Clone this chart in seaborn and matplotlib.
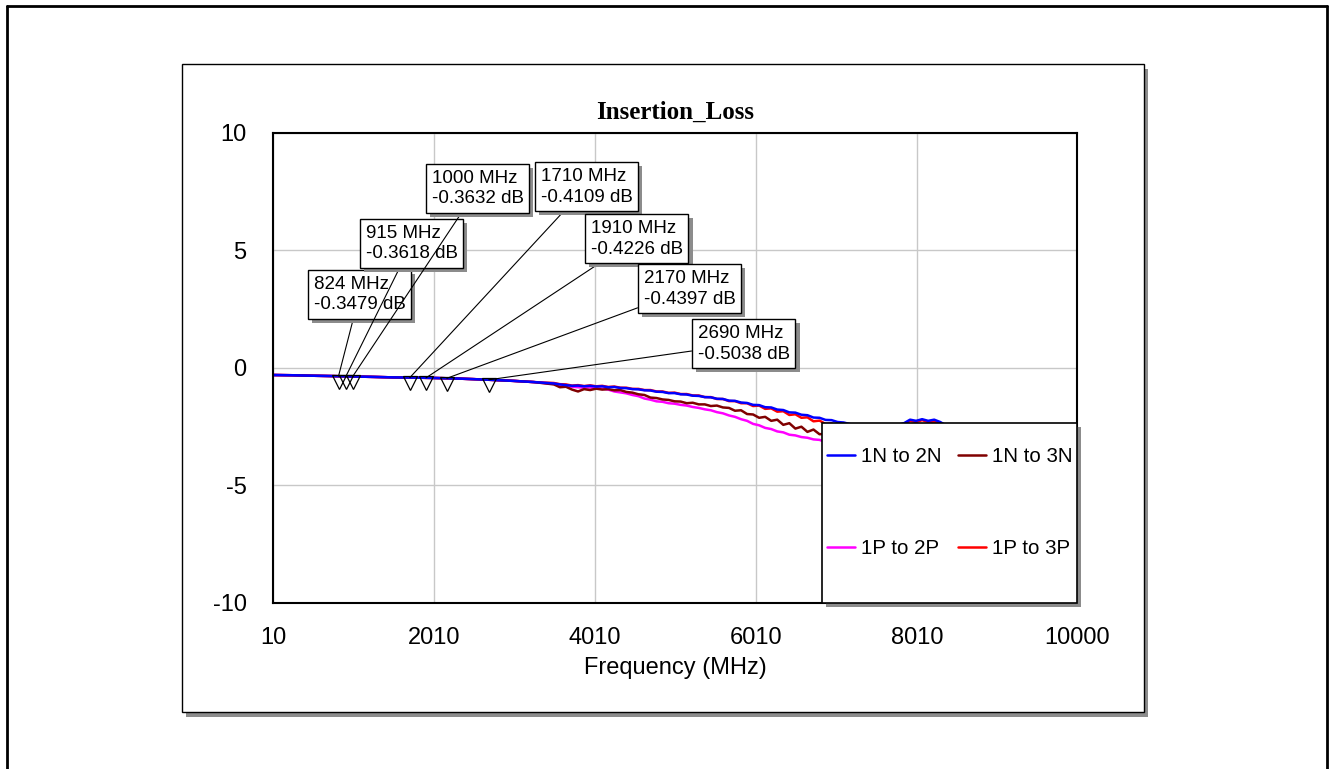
import numpy as np
import pandas as pd
import matplotlib
matplotlib.use("Agg")
import matplotlib.pyplot as plt
import matplotlib.patheffects as pe
from matplotlib.patches import Rectangle
from matplotlib.lines import Line2D
from matplotlib.transforms import offset_copy
import seaborn as sns

# frequency grid (MHz)
freq = [10, 250, 500, 750, 1000, 1250, 1500, 1750, 2000, 2250, 2500, 2750, 3000, 3250,
        3500, 3575, 3650, 3725, 3800, 3875, 3950, 4025, 4100, 4175, 4250, 4325, 4400,
        4475, 4550, 4625, 4700, 4775, 4850, 4925, 5000, 5075, 5150, 5225, 5300, 5375,
        5450, 5525, 5600, 5675, 5750, 5825, 5900, 5975, 6050, 6125, 6200, 6275, 6350,
        6425, 6500, 6575, 6650, 6725, 6800, 6875, 6950, 7025, 7100,
        7250, 7400, 7550, 7700, 7850, 7925, 8000, 8075, 8150, 8225, 8300, 8400, 8550,
        8700, 8850, 9000, 9250, 9500, 9750, 10000]

low_band = [-0.30, -0.31, -0.33, -0.345, -0.363, -0.38, -0.40, -0.41, -0.425, -0.445,
            -0.475, -0.51, -0.55, -0.60]

loss_1n_2n = low_band + [
    -0.66, -0.70, -0.73, -0.76, -0.75, -0.78, -0.76, -0.79, -0.78, -0.82, -0.81, -0.85, -0.86,
    -0.90, -0.91, -0.95, -0.96, -1.01, -1.02, -1.07, -1.07, -1.12, -1.13, -1.18, -1.19, -1.24,
    -1.25, -1.31, -1.32, -1.39, -1.40, -1.47, -1.49, -1.57, -1.58, -1.67, -1.68, -1.77, -1.79,
    -1.89, -1.90, -1.99, -2.01, -2.11, -2.12, -2.21, -2.22, -2.30, -2.32,
    -2.45, -2.50, -2.55, -2.50, -2.35, -2.20, -2.25, -2.18, -2.25, -2.20, -2.30, -2.50, -2.60,
    -2.55, -2.40, -2.60, -2.80, -3.00, -3.10, -3.20]

loss_1p_3p = low_band + [
    -0.64, -0.69, -0.70, -0.75, -0.73, -0.77, -0.74, -0.78, -0.76, -0.81, -0.79, -0.84, -0.84,
    -0.89, -0.89, -0.94, -0.94, -1.00, -1.00, -1.06, -1.05, -1.11, -1.11, -1.17, -1.17, -1.24,
    -1.24, -1.32, -1.32, -1.41, -1.41, -1.50, -1.50, -1.62, -1.60, -1.74, -1.72, -1.86, -1.84,
    -2.00, -1.97, -2.12, -2.10, -2.27, -2.24, -2.38, -2.36, -2.48, -2.48,
    -2.60, -2.65, -2.70, -2.60, -2.40, -2.25, -2.30, -2.22, -2.30, -2.28, -2.40, -2.60, -2.70,
    -2.70, -2.60, -2.80, -3.00, -3.20, -3.30, -3.40]

loss_1n_3n = low_band + [
    -0.70, -0.82, -0.80, -0.92, -1.00, -0.90, -0.94, -0.88, -0.92, -0.90, -0.95, -0.94, -1.02,
    -1.05, -1.12, -1.15, -1.26, -1.28, -1.34, -1.36, -1.42, -1.43, -1.50, -1.48, -1.55, -1.55,
    -1.62, -1.60, -1.68, -1.70, -1.82, -1.80, -1.96, -1.98, -2.12, -2.08, -2.25, -2.20, -2.42,
    -2.35, -2.58, -2.50, -2.72, -2.62, -2.82, -2.80, -2.92, -2.95, -3.05,
    -3.20, -3.30, -3.40, -3.50, -3.55, -3.50, -3.60, -3.55, -3.65, -3.60, -3.70, -3.80, -3.90,
    -3.95, -4.00, -4.10, -4.20, -4.30, -4.40, -4.50]

loss_1p_2p = low_band + [
    -0.68, -0.72, -0.76, -0.80, -0.82, -0.84, -0.83, -0.86, -0.88, -0.92, -1.00, -1.04, -1.08,
    -1.15, -1.20, -1.30, -1.35, -1.42, -1.44, -1.50, -1.52, -1.57, -1.60, -1.66, -1.70, -1.76,
    -1.80, -1.88, -1.93, -2.02, -2.08, -2.18, -2.25, -2.38, -2.44, -2.55, -2.60, -2.70, -2.74,
    -2.84, -2.87, -2.94, -2.97, -3.04, -3.06, -3.15, -3.20, -3.30, -3.35,
    -3.45, -3.55, -3.65, -3.70, -3.75, -3.75, -3.80, -3.80, -3.85, -3.85, -3.90, -4.00, -4.10,
    -4.15, -4.20, -4.30, -4.40, -4.50, -4.60, -4.70]

series_names = ["1P to 3P", "1P to 2P", "1N to 3N", "1N to 2N"]
series_colors = {"1N to 2N": "#0000FF", "1N to 3N": "#800000",
                 "1P to 2P": "#FF00FF", "1P to 3P": "#FF0000"}
legend_order = ["1N to 2N", "1P to 2P", "1N to 3N", "1P to 3P"]

# markers
mk_freq = [824, 915, 1000, 1710, 1910, 2170, 2690]
mk_loss = [-0.3479, -0.3618, -0.3632, -0.4109, -0.4226, -0.4397, -0.5038]
# lower-left corner of each label text (MHz, dB)
lbl_x = [515, 1161, 1981, 3335, 3957, 4615, 5286]
lbl_y = [2.32, 4.49, 6.83, 6.91, 4.70, 2.57, 0.23]

x_ticks = [10, 2010, 4010, 6010, 8010, 10000]
y_ticks = [-10, -5, 0, 5, 10]

frames = []
for name, vals in zip(["1N to 2N", "1P to 3P", "1N to 3N", "1P to 2P"],
                      [loss_1n_2n, loss_1p_3p, loss_1n_3n, loss_1p_2p]):
    frames.append(pd.DataFrame({"freq": freq, "loss": vals, "path": name}))
df = pd.concat(frames, ignore_index=True)

sns.set_style("white")
plt.rcParams["font.family"] = ["Liberation Sans", "DejaVu Sans"]
plt.rcParams["axes.unicode_minus"] = False
plt.rcParams["text.color"] = "black"
plt.rcParams["xtick.color"] = "black"
plt.rcParams["ytick.color"] = "black"
plt.rcParams["axes.labelcolor"] = "black"

fig = plt.figure(figsize=(13.33, 7.69), dpi=100)
ax = fig.add_axes([0.2048, 0.2159, 0.6032, 0.6112])

# panel with shadow + outer border
W, H = 1333, 769
fig.patches.append(Rectangle((186 / W, 1 - 717 / H), 962 / W, 648 / H, transform=fig.transFigure,
                             fc="#8c8c8c", ec="none", zorder=-3))
fig.patches.append(Rectangle((182 / W, 1 - 712 / H), 962 / W, 648 / H, transform=fig.transFigure,
                             fc="white", ec="black", lw=1.0, zorder=-2))
for xs, ys in [([7 / W, 7 / W], [0, 1 - 6 / H]), ([7 / W, 1327 / W], [1 - 6 / H, 1 - 6 / H]),
               ([1327 / W, 1327 / W], [0, 1 - 6 / H])]:
    fig.lines.append(Line2D(xs, ys, transform=fig.transFigure, color="black", lw=2.0))
ax.set_facecolor("none")

sns.lineplot(data=df, x="freq", y="loss", hue="path", hue_order=series_names,
             palette=series_colors, lw=1.8, ax=ax, legend=False, zorder=2)

ax.set_xlim(10, 10000)
ax.set_ylim(-10, 10)
ax.set_xticks(x_ticks)
ax.set_yticks(y_ticks)
ax.tick_params(axis="both", length=0, labelsize=17)
ax.tick_params(axis="x", pad=17)
ax.tick_params(axis="y", pad=19)
ax.grid(True, color="#c8c8c8", lw=1.0)
for s in ax.spines.values():
    s.set_color("black")
    s.set_linewidth(1.5)
ax.set_xlabel("Frequency (MHz)", fontsize=17, labelpad=6)
ax.set_ylabel("")
ax.set_title("Insertion_Loss", fontsize=18, fontweight="bold",
             family=["Liberation Serif", "DejaVu Serif"], pad=10)

# markers sit just under the trace
mk_trans = offset_copy(ax.transData, fig=fig, x=0, y=-4, units="points")
ax.plot(mk_freq, mk_loss, "v", ms=10, mfc="none", mec="black", mew=0.9,
        transform=mk_trans, zorder=4)

shadow = [pe.withSimplePatchShadow(offset=(3, -3), shadow_rgbFace="#8c8c8c", alpha=1.0)]
for f, v, tx, ty in zip(mk_freq, mk_loss, lbl_x, lbl_y):
    t = ax.annotate(f"{f} MHz\n{v:.4f} dB", xy=(f, v), xytext=(tx, ty),
                    ha="left", va="bottom", fontsize=13.5, linespacing=1.3,
                    bbox=dict(boxstyle="square,pad=0.3", fc="white", ec="black", lw=1.0),
                    arrowprops=dict(arrowstyle="-", color="black", lw=0.8,
                                    shrinkA=0, shrinkB=0),
                    zorder=3)
    t.get_bbox_patch().set_path_effects(shadow)

# legend box in lower right corner
lg_rect = Rectangle((0.683, 0.0), 0.317, 0.383, transform=ax.transAxes, fc="white",
                    ec="black", lw=1.2, zorder=5, clip_on=False)
lg_rect.set_path_effects([pe.withSimplePatchShadow(offset=(3, -3), shadow_rgbFace="#8c8c8c",
                                                   alpha=1.0)])
ax.add_patch(lg_rect)
handles = [Line2D([], [], color=series_colors[n], lw=1.8) for n in legend_order]
leg = ax.legend(handles, legend_order, ncol=2, loc="upper left",
                bbox_to_anchor=(0.689, 0.332), frameon=False, fontsize=14.8,
                handlelength=1.35, handletextpad=0.3, columnspacing=0.8,
                labelspacing=3.55, borderpad=0, borderaxespad=0)
leg.set_zorder(6)

fig.savefig("out.png", dpi=100)
